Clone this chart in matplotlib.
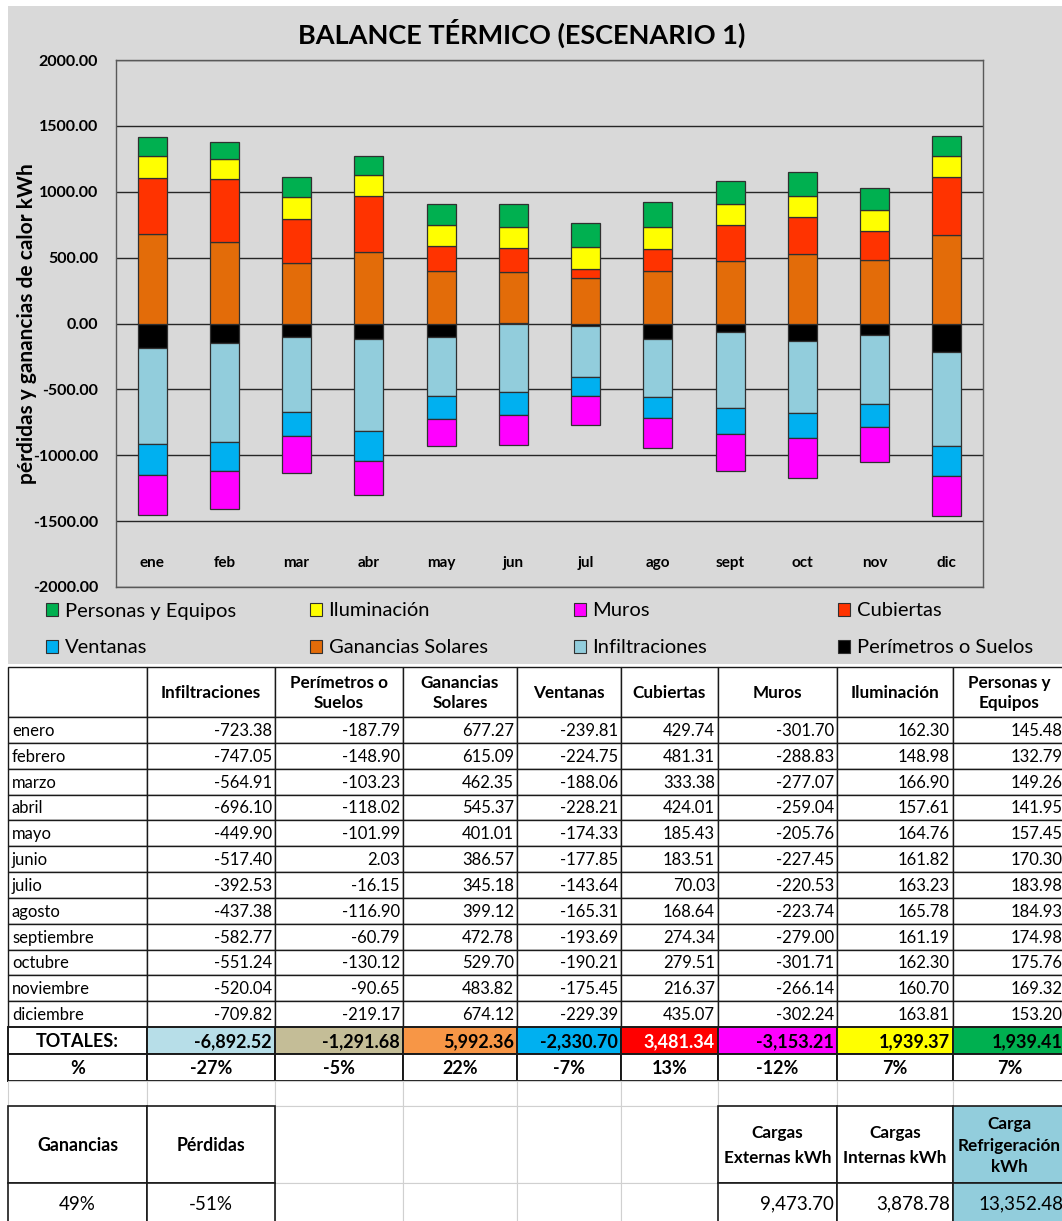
import matplotlib
matplotlib.use('Agg')
import matplotlib.pyplot as plt
from matplotlib.patches import Rectangle, Patch
import numpy as np

plt.rcParams['font.family'] = ['Lato', 'DejaVu Sans']

# ---------------- data ----------------
months_short = ['ene', 'feb', 'mar', 'abr', 'may', 'jun', 'jul', 'ago', 'sept', 'oct', 'nov', 'dic']
months_long = ['enero', 'febrero', 'marzo', 'abril', 'mayo', 'junio', 'julio', 'agosto',
               'septiembre', 'octubre', 'noviembre', 'diciembre']

infiltraciones = [-723.38, -747.05, -564.91, -696.10, -449.90, -517.40, -392.53, -437.38, -582.77, -551.24, -520.04, -709.82]
perimetros = [-187.79, -148.90, -103.23, -118.02, -101.99, 2.03, -16.15, -116.90, -60.79, -130.12, -90.65, -219.17]
ganancias_solares = [677.27, 615.09, 462.35, 545.37, 401.01, 386.57, 345.18, 399.12, 472.78, 529.70, 483.82, 674.12]
ventanas = [-239.81, -224.75, -188.06, -228.21, -174.33, -177.85, -143.64, -165.31, -193.69, -190.21, -175.45, -229.39]
cubiertas = [429.74, 481.31, 333.38, 424.01, 185.43, 183.51, 70.03, 168.64, 274.34, 279.51, 216.37, 435.07]
muros = [-301.70, -288.83, -277.07, -259.04, -205.76, -227.45, -220.53, -223.74, -279.00, -301.71, -266.14, -302.24]
iluminacion = [162.30, 148.98, 166.90, 157.61, 164.76, 161.82, 163.23, 165.78, 161.19, 162.30, 160.70, 163.81]
personas = [145.48, 132.79, 149.26, 141.95, 157.45, 170.30, 183.98, 184.93, 174.98, 175.76, 169.32, 153.20]

table_headers = ['', 'Infiltraciones', 'Perímetros o\nSuelos', 'Ganancias\nSolares', 'Ventanas',
                 'Cubiertas', 'Muros', 'Iluminación', 'Personas y\nEquipos']
totales = [-6892.52, -1291.68, 5992.36, -2330.70, 3481.34, -3153.21, 1939.37, 1939.41]
porcentajes = [-27, -5, 22, -7, 13, -12, 7, 7]

ganancias_pct = 49
perdidas_pct = -51
cargas_externas = 9473.70
cargas_internas = 3878.78
carga_refrigeracion = 13352.48

# ---------------- styles ----------------
names = ['Perímetros o Suelos', 'Infiltraciones', 'Ganancias Solares', 'Ventanas',
         'Cubiertas', 'Muros', 'Iluminación', 'Personas y Equipos']
series = [perimetros, infiltraciones, ganancias_solares, ventanas, cubiertas, muros, iluminacion, personas]
colors = {'Perímetros o Suelos': '#000000', 'Infiltraciones': '#92CDDC', 'Ganancias Solares': '#E36C09',
          'Ventanas': '#00B0F0', 'Cubiertas': '#FF3300', 'Muros': '#FF00FF',
          'Iluminación': '#FFFF00', 'Personas y Equipos': '#00B050'}
total_fill = ['#B7DEE8', '#C4BD97', '#F79646', '#00B0F0', '#FF0000', '#FF00FF', '#FFFF00', '#00B050']
total_text = ['black', 'black', 'black', 'black', 'white', 'black', 'black', 'black']

W, H = 1062, 1221
fig = plt.figure(figsize=(W / 100, H / 100), dpi=100, facecolor='white')

ov = fig.add_axes([0, 0, 1, 1], zorder=0)
ov.set_xlim(0, W)
ov.set_ylim(H, 0)
ov.axis('off')
ov.add_patch(Rectangle((8, 6), W - 8, 658, facecolor='#D9D9D9', edgecolor='none'))

# ---------------- chart ----------------
PL, PR, PT, PB = 116, 983, 60, 587
ax = fig.add_axes([PL / W, 1 - PB / H, (PR - PL) / W, (PB - PT) / H], zorder=1)
ax.set_facecolor('#D9D9D9')
x = np.arange(len(months_short))
pos = np.zeros(len(x))
neg = np.zeros(len(x))
for name, vals in zip(names, series):
    v = np.array(vals)
    bottom = np.where(v >= 0, pos, neg)
    ax.bar(x, v, 0.4, bottom=bottom, color=colors[name], edgecolor='#303030',
           linewidth=0.9, zorder=3)
    pos += np.where(v >= 0, v, 0)
    neg += np.where(v < 0, v, 0)

ax.set_xlim(-0.5, 11.5)
ax.set_ylim(-2000, 2000)
yt = np.arange(-2000, 2001, 500)
ax.set_yticks(yt)
ax.set_yticklabels([f'{t:.2f}' for t in yt], fontweight='bold', fontsize=11.5)
ax.tick_params(axis='y', length=0, pad=13)
ax.set_xticks([])
ax.yaxis.grid(True, color='#262626', linewidth=1.0)
ax.set_axisbelow(True)
for s in ax.spines.values():
    s.set_color('#595959')
    s.set_linewidth(1.0)
for i, m in enumerate(months_short):
    ax.text(i, -1820, m, ha='center', va='center', fontweight='bold', fontsize=11, zorder=4)
ax.set_ylabel('pérdidas y ganancias de calor kWh', fontweight='bold', fontsize=15)
ax.yaxis.set_label_coords(-(116 - 37) / (PR - PL), 0.5)

fig.text(522 / W, 1 - 33 / H, 'BALANCE TÉRMICO (ESCENARIO 1)', ha='center', va='center',
         fontsize=19.5, fontweight='bold')

# legend: reversed series order
leg_names = names[::-1]
leg_x = [46, 310, 574, 838]
leg_y = [611, 648]
for k, name in enumerate(leg_names):
    r, c = divmod(k, 4)
    h = Patch(facecolor=colors[name], edgecolor='#303030', linewidth=0.8)
    fig.legend([h], [name], loc='center left', bbox_to_anchor=(leg_x[c] / W, 1 - leg_y[r] / H),
               frameon=False, borderpad=0, borderaxespad=0, handlelength=0.62, handleheight=0.62,
               handletextpad=0.3, fontsize=14.5)

# ---------------- table ----------------
cx = [8, 147, 275, 403, 517, 621, 718, 837, 953, 1066]
hdr_top, hdr_bot = 667, 717
row_h = (1027 - 717) / 12


def cell(c, y0, y1, text='', ha='right', fc='white', weight='normal', fs=12, color='black',
         ec='#1a1a1a', lw=1.0, ls=1.2):
    x0, x1 = cx[c], cx[c + 1]
    ov.add_patch(Rectangle((x0, y0), x1 - x0, y1 - y0, facecolor=fc, edgecolor=ec, linewidth=lw))
    if text:
        if ha == 'right':
            tx = x1 - 3
        elif ha == 'left':
            tx = x0 + 4
        else:
            tx = (x0 + x1) / 2
        ov.text(tx, (y0 + y1) / 2 + 1, text, ha=ha, va='center', fontsize=fs, fontweight=weight,
                color=color, linespacing=ls)


for c, t in enumerate(table_headers):
    cell(c, hdr_top, hdr_bot, t, ha='center', weight='bold', fs=12.3, ls=1.35)

data_cols = [infiltraciones, perimetros, ganancias_solares, ventanas, cubiertas, muros, iluminacion, personas]
for i, m in enumerate(months_long):
    y0 = hdr_bot + i * row_h
    y1 = y0 + row_h
    cell(0, y0, y1, m, ha='left', fs=12)
    for c, col in enumerate(data_cols):
        cell(c + 1, y0, y1, f'{col[i]:,.2f}', ha='right', fs=12)

ty0, ty1 = 1027, 1054
cell(0, ty0, ty1, 'TOTALES:', ha='center', weight='bold', fs=13, lw=1.4)
for c, v in enumerate(totales):
    cell(c + 1, ty0, ty1, f'{v:,.2f}', ha='right', weight='bold', fs=13, fc=total_fill[c],
         color=total_text[c], lw=1.4)

py0, py1 = 1054, 1081
cell(0, py0, py1, '%', ha='center', weight='bold', fs=13, lw=1.4)
for c, v in enumerate(porcentajes):
    cell(c + 1, py0, py1, f'{v}%', ha='center', weight='bold', fs=13, lw=1.4)

# empty grid row and blank cells
ey0, ey1 = 1081, 1106
for c in range(9):
    cell(c, ey0, ey1, ec='#D0D0D0', lw=0.8)
hy0, hy1 = 1106, 1183
vy0, vy1 = 1183, 1223
for c in range(2, 6):
    cell(c, hy0, hy1, ec='#D0D0D0', lw=0.8)
    cell(c, vy0, vy1, ec='#D0D0D0', lw=0.8)

cell(0, hy0, hy1, 'Ganancias', ha='center', weight='bold', fs=12.8, lw=1.2)
cell(1, hy0, hy1, 'Pérdidas', ha='center', weight='bold', fs=12.8, lw=1.2)
cell(6, hy0, hy1, 'Cargas\nExternas kWh', ha='center', weight='bold', fs=12.3, lw=1.2, ls=1.75)
cell(7, hy0, hy1, 'Cargas\nInternas kWh', ha='center', weight='bold', fs=12.3, lw=1.2, ls=1.75)
cell(8, hy0, hy1, 'Carga\nRefrigeración\nkWh', ha='center', weight='bold', fs=12.3, lw=1.2,
     fc='#92CDDC', ls=1.45)

cell(0, vy0, vy1, f'{ganancias_pct}%', ha='center', fs=13.5, lw=1.2)
cell(1, vy0, vy1, f'{perdidas_pct}%', ha='center', fs=13.5, lw=1.2)
cell(6, vy0, vy1, f'{cargas_externas:,.2f}', ha='right', fs=13.5, lw=1.2)
cell(7, vy0, vy1, f'{cargas_internas:,.2f}', ha='right', fs=13.5, lw=1.2)
cell(8, vy0, vy1, f'{carga_refrigeracion:,.2f}', ha='right', fs=13.5, lw=1.2, fc='#92CDDC')

fig.savefig('out.png', dpi=100, facecolor='white')
